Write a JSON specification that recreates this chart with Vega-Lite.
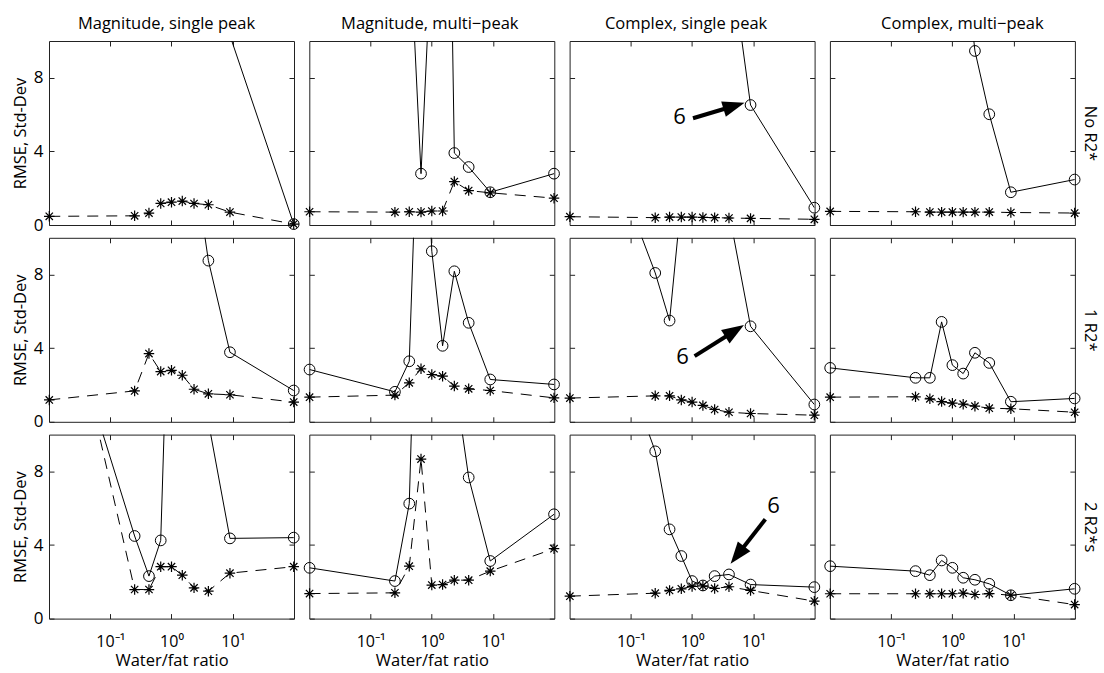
{
"$schema":"https://vega.github.io/schema/vega-lite/v6.json",
"background":"white",
"padding":{"left":11,"top":15,"right":6,"bottom":0},
"datasets":{
"d":[
{"p":"r1c1","x":0.0101,"rmse":40,"sd":0.47},{"p":"r1c1","x":0.25,"rmse":38,"sd":0.5},{"p":"r1c1","x":0.4286,"rmse":35,"sd":0.65},{"p":"r1c1","x":0.6667,"rmse":30,"sd":1.17},{"p":"r1c1","x":1,"rmse":28,"sd":1.24},{"p":"r1c1","x":1.5,"rmse":25,"sd":1.3},{"p":"r1c1","x":2.333,"rmse":20,"sd":1.17},{"p":"r1c1","x":4,"rmse":15,"sd":1.1},{"p":"r1c1","x":9,"rmse":10.3,"sd":0.7},{"p":"r1c1","x":99,"rmse":0.05,"sd":0.05},
{"p":"r1c2","x":0.0101,"rmse":30,"sd":0.72},{"p":"r1c2","x":0.25,"rmse":25,"sd":0.7},{"p":"r1c2","x":0.4286,"rmse":16.1,"sd":0.72},{"p":"r1c2","x":0.6667,"rmse":2.79,"sd":0.7},{"p":"r1c2","x":1,"rmse":15.3,"sd":0.76},{"p":"r1c2","x":1.5,"rmse":44,"sd":0.76},{"p":"r1c2","x":2.333,"rmse":3.91,"sd":2.36},{"p":"r1c2","x":4,"rmse":3.15,"sd":1.87},{"p":"r1c2","x":9,"rmse":1.78,"sd":1.75},{"p":"r1c2","x":99,"rmse":2.79,"sd":1.46},
{"p":"r1c3","x":0.0101,"rmse":40,"sd":0.45},{"p":"r1c3","x":0.25,"rmse":35,"sd":0.4},{"p":"r1c3","x":0.4286,"rmse":30,"sd":0.43},{"p":"r1c3","x":0.6667,"rmse":28,"sd":0.43},{"p":"r1c3","x":1,"rmse":25,"sd":0.43},{"p":"r1c3","x":1.5,"rmse":22,"sd":0.41},{"p":"r1c3","x":2.333,"rmse":18,"sd":0.4},{"p":"r1c3","x":4,"rmse":15.2,"sd":0.38},{"p":"r1c3","x":9,"rmse":6.52,"sd":0.36},{"p":"r1c3","x":99,"rmse":0.94,"sd":0.31},
{"p":"r1c4","x":0.0101,"rmse":40,"sd":0.74},{"p":"r1c4","x":0.25,"rmse":35,"sd":0.72},{"p":"r1c4","x":0.4286,"rmse":30,"sd":0.7},{"p":"r1c4","x":0.6667,"rmse":25,"sd":0.7},{"p":"r1c4","x":1,"rmse":20,"sd":0.7},{"p":"r1c4","x":1.5,"rmse":15.4,"sd":0.7},{"p":"r1c4","x":2.333,"rmse":9.46,"sd":0.7},{"p":"r1c4","x":4,"rmse":6.02,"sd":0.7},{"p":"r1c4","x":9,"rmse":1.78,"sd":0.68},{"p":"r1c4","x":99,"rmse":2.47,"sd":0.65},
{"p":"r2c1","x":0.0101,"rmse":40,"sd":1.19},{"p":"r2c1","x":0.25,"rmse":35,"sd":1.68},{"p":"r2c1","x":0.4286,"rmse":30,"sd":3.71},{"p":"r2c1","x":0.6667,"rmse":25,"sd":2.73},{"p":"r2c1","x":1,"rmse":20,"sd":2.8},{"p":"r2c1","x":1.5,"rmse":17,"sd":2.53},{"p":"r2c1","x":2.333,"rmse":14.1,"sd":1.77},{"p":"r2c1","x":4,"rmse":8.76,"sd":1.52},{"p":"r2c1","x":9,"rmse":3.78,"sd":1.47},{"p":"r2c1","x":99,"rmse":1.7,"sd":1.07},
{"p":"r2c2","x":0.0101,"rmse":2.84,"sd":1.34},{"p":"r2c2","x":0.25,"rmse":1.63,"sd":1.45},{"p":"r2c2","x":0.4286,"rmse":3.29,"sd":2.12},{"p":"r2c2","x":0.6667,"rmse":22,"sd":2.88},{"p":"r2c2","x":1,"rmse":9.27,"sd":2.57},{"p":"r2c2","x":1.5,"rmse":4.13,"sd":2.48},{"p":"r2c2","x":2.333,"rmse":8.18,"sd":1.94},{"p":"r2c2","x":4,"rmse":5.38,"sd":1.79},{"p":"r2c2","x":9,"rmse":2.3,"sd":1.7},{"p":"r2c2","x":99,"rmse":2.03,"sd":1.3},
{"p":"r2c3","x":0.0101,"rmse":20.4,"sd":1.29},{"p":"r2c3","x":0.25,"rmse":8.09,"sd":1.41},{"p":"r2c3","x":0.4286,"rmse":5.5,"sd":1.41},{"p":"r2c3","x":0.6667,"rmse":12.06,"sd":1.19},{"p":"r2c3","x":1,"rmse":15,"sd":1.07},{"p":"r2c3","x":1.5,"rmse":18,"sd":0.89},{"p":"r2c3","x":2.333,"rmse":16,"sd":0.67},{"p":"r2c3","x":4,"rmse":11.4,"sd":0.52},{"p":"r2c3","x":9,"rmse":5.19,"sd":0.45},{"p":"r2c3","x":99,"rmse":0.94,"sd":0.36},
{"p":"r2c4","x":0.0101,"rmse":2.93,"sd":1.34},{"p":"r2c4","x":0.25,"rmse":2.39,"sd":1.36},{"p":"r2c4","x":0.4286,"rmse":2.39,"sd":1.25},{"p":"r2c4","x":0.6667,"rmse":5.43,"sd":1.1},{"p":"r2c4","x":1,"rmse":3.08,"sd":1.01},{"p":"r2c4","x":1.5,"rmse":2.62,"sd":0.96},{"p":"r2c4","x":2.333,"rmse":3.75,"sd":0.85},{"p":"r2c4","x":4,"rmse":3.2,"sd":0.74},{"p":"r2c4","x":9,"rmse":1.09,"sd":0.71},{"p":"r2c4","x":99,"rmse":1.27,"sd":0.52},
{"p":"r3c1","x":0.0101,"rmse":19.4,"sd":21.8},{"p":"r3c1","x":0.25,"rmse":4.49,"sd":1.58},{"p":"r3c1","x":0.4286,"rmse":2.31,"sd":1.58},{"p":"r3c1","x":0.6667,"rmse":4.25,"sd":2.82},{"p":"r3c1","x":1,"rmse":23.2,"sd":2.82},{"p":"r3c1","x":1.5,"rmse":25,"sd":2.36},{"p":"r3c1","x":2.333,"rmse":20,"sd":1.67},{"p":"r3c1","x":4,"rmse":10.7,"sd":1.49},{"p":"r3c1","x":9,"rmse":4.36,"sd":2.47},{"p":"r3c1","x":99,"rmse":4.4,"sd":2.82},
{"p":"r3c2","x":0.0101,"rmse":2.76,"sd":1.36},{"p":"r3c2","x":0.25,"rmse":2.04,"sd":1.4},{"p":"r3c2","x":0.4286,"rmse":6.25,"sd":2.85},{"p":"r3c2","x":0.6667,"rmse":28,"sd":8.67},{"p":"r3c2","x":1,"rmse":25,"sd":1.82},{"p":"r3c2","x":1.5,"rmse":20,"sd":1.85},{"p":"r3c2","x":2.333,"rmse":13.1,"sd":2.09},{"p":"r3c2","x":4,"rmse":7.67,"sd":2.09},{"p":"r3c2","x":9,"rmse":3.13,"sd":2.58},{"p":"r3c2","x":99,"rmse":5.67,"sd":3.8},
{"p":"r3c3","x":0.0101,"rmse":22,"sd":1.22},{"p":"r3c3","x":0.25,"rmse":9.09,"sd":1.38},{"p":"r3c3","x":0.4286,"rmse":4.85,"sd":1.53},{"p":"r3c3","x":0.6667,"rmse":3.4,"sd":1.62},{"p":"r3c3","x":1,"rmse":2.04,"sd":1.75},{"p":"r3c3","x":1.5,"rmse":1.8,"sd":1.78},{"p":"r3c3","x":2.333,"rmse":2.31,"sd":1.64},{"p":"r3c3","x":4,"rmse":2.4,"sd":1.73},{"p":"r3c3","x":9,"rmse":1.85,"sd":1.53},{"p":"r3c3","x":99,"rmse":1.71,"sd":0.95},
{"p":"r3c4","x":0.0101,"rmse":2.85,"sd":1.35},{"p":"r3c4","x":0.25,"rmse":2.58,"sd":1.35},{"p":"r3c4","x":0.4286,"rmse":2.36,"sd":1.35},{"p":"r3c4","x":0.6667,"rmse":3.16,"sd":1.35},{"p":"r3c4","x":1,"rmse":2.76,"sd":1.35},{"p":"r3c4","x":1.5,"rmse":2.22,"sd":1.38},{"p":"r3c4","x":2.333,"rmse":2.11,"sd":1.31},{"p":"r3c4","x":4,"rmse":1.89,"sd":1.36},{"p":"r3c4","x":9,"rmse":1.27,"sd":1.27},{"p":"r3c4","x":99,"rmse":1.62,"sd":0.76}
],
"ann":[
{"p":"r1c3","label":"6","label_x":0.625,"label_y":5.89,"tail_x":1.034,"tail_y":5.8,"shaft_x":4.67,"shaft_y":6.455,"tip_x":7.19,"tip_y":6.645},
{"p":"r2c3","label":"6","label_x":0.697,"label_y":3.52,"tail_x":1.099,"tail_y":3.57,"shaft_x":4.8,"shaft_y":4.91,"tip_x":7.03,"tip_y":5.255},
{"p":"r3c3","label":"6","label_x":21.3,"label_y":6.1,"tail_x":15.7,"tail_y":5.4,"shaft_x":5.61,"shaft_y":3.5,"tip_x":4.25,"tip_y":2.98}
]
},
"data":{"name":"d"},
"columns":4,
"bounds":"flush",
"spacing":{"row":12.8,"column":15.3},
"concat":[
{"title":{"text":"Magnitude, single peak","dx":-5},"transform":[{"filter":"datum.p=='r1c1'"}],"resolve":{"axis":{"x":"independent","y":"independent"}},"layer":[
{"mark":{"type":"line","clip":true,"color":"black","strokeWidth":1},"encoding":{"x":{"field":"x","type":"quantitative","scale":{"type":"log","domain":[0.01,100],"nice":false},"axis":{"orient":"bottom","values":[0.1,1,10],"labels":false,"title":null}},"y":{"field":"rmse","type":"quantitative","scale":{"domain":[0,10],"nice":false},"axis":{"orient":"left","values":[0,4,8],"title":"RMSE, Std-Dev"}}}},
{"mark":{"type":"line","clip":true,"color":"black","strokeWidth":1,"strokeDash":[11,8]},"encoding":{"x":{"field":"x","type":"quantitative","scale":{"type":"log","domain":[0.01,100],"nice":false},"axis":{"orient":"top","values":[0.1,1,10],"labels":false,"title":null}},"y":{"field":"sd","type":"quantitative","scale":{"domain":[0,10],"nice":false},"axis":{"orient":"right","values":[0,4,8],"labels":false,"title":null}}}},
{"transform":[{"filter":"datum.rmse<=10"}],"mark":{"type":"point","shape":"circle","size":115,"filled":false,"color":"black","strokeWidth":1,"opacity":1},"encoding":{"x":{"field":"x","type":"quantitative","scale":{"type":"log","domain":[0.01,100],"nice":false},"axis":null},"y":{"field":"rmse","type":"quantitative","scale":{"domain":[0,10],"nice":false},"axis":null}}},
{"transform":[{"filter":"datum.sd<=10"}],"mark":{"type":"point","shape":"M-1,0L1,0M0,-1L0,1M-0.7,-0.7L0.7,0.7M-0.7,0.7L0.7,-0.7","size":110,"filled":false,"color":"black","strokeWidth":1.2,"opacity":1},"encoding":{"x":{"field":"x","type":"quantitative","scale":{"type":"log","domain":[0.01,100],"nice":false},"axis":null},"y":{"field":"sd","type":"quantitative","scale":{"domain":[0,10],"nice":false},"axis":null}}}
]},
{"title":{"text":"Magnitude, multi\u2212peak","dx":-2},"transform":[{"filter":"datum.p=='r1c2'"}],"resolve":{"axis":{"x":"independent","y":"independent"}},"layer":[
{"mark":{"type":"line","clip":true,"color":"black","strokeWidth":1},"encoding":{"x":{"field":"x","type":"quantitative","scale":{"type":"log","domain":[0.01,100],"nice":false},"axis":{"orient":"bottom","values":[0.1,1,10],"labels":false,"title":null}},"y":{"field":"rmse","type":"quantitative","scale":{"domain":[0,10],"nice":false},"axis":{"orient":"left","values":[0,4,8],"labels":false,"title":null}}}},
{"mark":{"type":"line","clip":true,"color":"black","strokeWidth":1,"strokeDash":[11,8]},"encoding":{"x":{"field":"x","type":"quantitative","scale":{"type":"log","domain":[0.01,100],"nice":false},"axis":{"orient":"top","values":[0.1,1,10],"labels":false,"title":null}},"y":{"field":"sd","type":"quantitative","scale":{"domain":[0,10],"nice":false},"axis":{"orient":"right","values":[0,4,8],"labels":false,"title":null}}}},
{"transform":[{"filter":"datum.rmse<=10"}],"mark":{"type":"point","shape":"circle","size":115,"filled":false,"color":"black","strokeWidth":1,"opacity":1},"encoding":{"x":{"field":"x","type":"quantitative","scale":{"type":"log","domain":[0.01,100],"nice":false},"axis":null},"y":{"field":"rmse","type":"quantitative","scale":{"domain":[0,10],"nice":false},"axis":null}}},
{"transform":[{"filter":"datum.sd<=10"}],"mark":{"type":"point","shape":"M-1,0L1,0M0,-1L0,1M-0.7,-0.7L0.7,0.7M-0.7,0.7L0.7,-0.7","size":110,"filled":false,"color":"black","strokeWidth":1.2,"opacity":1},"encoding":{"x":{"field":"x","type":"quantitative","scale":{"type":"log","domain":[0.01,100],"nice":false},"axis":null},"y":{"field":"sd","type":"quantitative","scale":{"domain":[0,10],"nice":false},"axis":null}}}
]},
{"title":{"text":"Complex, single peak","dx":-6},"transform":[{"filter":"datum.p=='r1c3'"}],"resolve":{"axis":{"x":"independent","y":"independent"}},"layer":[
{"mark":{"type":"line","clip":true,"color":"black","strokeWidth":1},"encoding":{"x":{"field":"x","type":"quantitative","scale":{"type":"log","domain":[0.01,100],"nice":false},"axis":{"orient":"bottom","values":[0.1,1,10],"labels":false,"title":null}},"y":{"field":"rmse","type":"quantitative","scale":{"domain":[0,10],"nice":false},"axis":{"orient":"left","values":[0,4,8],"labels":false,"title":null}}}},
{"mark":{"type":"line","clip":true,"color":"black","strokeWidth":1,"strokeDash":[11,8]},"encoding":{"x":{"field":"x","type":"quantitative","scale":{"type":"log","domain":[0.01,100],"nice":false},"axis":{"orient":"top","values":[0.1,1,10],"labels":false,"title":null}},"y":{"field":"sd","type":"quantitative","scale":{"domain":[0,10],"nice":false},"axis":{"orient":"right","values":[0,4,8],"labels":false,"title":null}}}},
{"transform":[{"filter":"datum.rmse<=10"}],"mark":{"type":"point","shape":"circle","size":115,"filled":false,"color":"black","strokeWidth":1,"opacity":1},"encoding":{"x":{"field":"x","type":"quantitative","scale":{"type":"log","domain":[0.01,100],"nice":false},"axis":null},"y":{"field":"rmse","type":"quantitative","scale":{"domain":[0,10],"nice":false},"axis":null}}},
{"transform":[{"filter":"datum.sd<=10"}],"mark":{"type":"point","shape":"M-1,0L1,0M0,-1L0,1M-0.7,-0.7L0.7,0.7M-0.7,0.7L0.7,-0.7","size":110,"filled":false,"color":"black","strokeWidth":1.2,"opacity":1},"encoding":{"x":{"field":"x","type":"quantitative","scale":{"type":"log","domain":[0.01,100],"nice":false},"axis":null},"y":{"field":"sd","type":"quantitative","scale":{"domain":[0,10],"nice":false},"axis":null}}},
{"data":{"name":"ann"},"transform":[{"filter":"datum.p=='r1c3'"}],"mark":{"type":"text","fontSize":22,"color":"black","align":"center","baseline":"middle"},"encoding":{"x":{"field":"label_x","type":"quantitative","scale":{"type":"log","domain":[0.01,100],"nice":false},"axis":null},"y":{"field":"label_y","type":"quantitative","scale":{"domain":[0,10],"nice":false},"axis":null},"text":{"field":"label"}}},
{"data":{"name":"ann"},"transform":[{"filter":"datum.p=='r1c3'"}],"mark":{"type":"rule","color":"black","strokeWidth":4},"encoding":{"x":{"field":"tail_x","type":"quantitative","scale":{"type":"log","domain":[0.01,100],"nice":false},"axis":null},"y":{"field":"tail_y","type":"quantitative","scale":{"domain":[0,10],"nice":false},"axis":null},"x2":{"field":"shaft_x"},"y2":{"field":"shaft_y"}}},
{"data":{"name":"ann"},"transform":[{"filter":"datum.p=='r1c3'"}],"mark":{"type":"point","shape":"M0,0L-4.4,-1.6L-4.4,1.6Z","size":100,"filled":true,"color":"black","opacity":1,"angle":343.2},"encoding":{"x":{"field":"tip_x","type":"quantitative","scale":{"type":"log","domain":[0.01,100],"nice":false},"axis":null},"y":{"field":"tip_y","type":"quantitative","scale":{"domain":[0,10],"nice":false},"axis":null}}}
]},
{"title":{"text":"Complex, multi\u2212peak","dx":10},"transform":[{"filter":"datum.p=='r1c4'"}],"resolve":{"axis":{"x":"independent","y":"independent"}},"layer":[
{"mark":{"type":"line","clip":true,"color":"black","strokeWidth":1},"encoding":{"x":{"field":"x","type":"quantitative","scale":{"type":"log","domain":[0.01,100],"nice":false},"axis":{"orient":"bottom","values":[0.1,1,10],"labels":false,"title":null}},"y":{"field":"rmse","type":"quantitative","scale":{"domain":[0,10],"nice":false},"axis":{"orient":"left","values":[0,4,8],"labels":false,"title":null}}}},
{"mark":{"type":"line","clip":true,"color":"black","strokeWidth":1,"strokeDash":[11,8]},"encoding":{"x":{"field":"x","type":"quantitative","scale":{"type":"log","domain":[0.01,100],"nice":false},"axis":{"orient":"top","values":[0.1,1,10],"labels":false,"title":null}},"y":{"field":"sd","type":"quantitative","scale":{"domain":[0,10],"nice":false},"axis":{"orient":"right","values":[0,4,8],"labels":false,"title":"No R2*"}}}},
{"transform":[{"filter":"datum.rmse<=10"}],"mark":{"type":"point","shape":"circle","size":115,"filled":false,"color":"black","strokeWidth":1,"opacity":1},"encoding":{"x":{"field":"x","type":"quantitative","scale":{"type":"log","domain":[0.01,100],"nice":false},"axis":null},"y":{"field":"rmse","type":"quantitative","scale":{"domain":[0,10],"nice":false},"axis":null}}},
{"transform":[{"filter":"datum.sd<=10"}],"mark":{"type":"point","shape":"M-1,0L1,0M0,-1L0,1M-0.7,-0.7L0.7,0.7M-0.7,0.7L0.7,-0.7","size":110,"filled":false,"color":"black","strokeWidth":1.2,"opacity":1},"encoding":{"x":{"field":"x","type":"quantitative","scale":{"type":"log","domain":[0.01,100],"nice":false},"axis":null},"y":{"field":"sd","type":"quantitative","scale":{"domain":[0,10],"nice":false},"axis":null}}}
]},
{"transform":[{"filter":"datum.p=='r2c1'"}],"resolve":{"axis":{"x":"independent","y":"independent"}},"layer":[
{"mark":{"type":"line","clip":true,"color":"black","strokeWidth":1},"encoding":{"x":{"field":"x","type":"quantitative","scale":{"type":"log","domain":[0.01,100],"nice":false},"axis":{"orient":"bottom","values":[0.1,1,10],"labels":false,"title":null}},"y":{"field":"rmse","type":"quantitative","scale":{"domain":[0,10],"nice":false},"axis":{"orient":"left","values":[0,4,8],"title":"RMSE, Std-Dev"}}}},
{"mark":{"type":"line","clip":true,"color":"black","strokeWidth":1,"strokeDash":[11,8]},"encoding":{"x":{"field":"x","type":"quantitative","scale":{"type":"log","domain":[0.01,100],"nice":false},"axis":{"orient":"top","values":[0.1,1,10],"labels":false,"title":null}},"y":{"field":"sd","type":"quantitative","scale":{"domain":[0,10],"nice":false},"axis":{"orient":"right","values":[0,4,8],"labels":false,"title":null}}}},
{"transform":[{"filter":"datum.rmse<=10"}],"mark":{"type":"point","shape":"circle","size":115,"filled":false,"color":"black","strokeWidth":1,"opacity":1},"encoding":{"x":{"field":"x","type":"quantitative","scale":{"type":"log","domain":[0.01,100],"nice":false},"axis":null},"y":{"field":"rmse","type":"quantitative","scale":{"domain":[0,10],"nice":false},"axis":null}}},
{"transform":[{"filter":"datum.sd<=10"}],"mark":{"type":"point","shape":"M-1,0L1,0M0,-1L0,1M-0.7,-0.7L0.7,0.7M-0.7,0.7L0.7,-0.7","size":110,"filled":false,"color":"black","strokeWidth":1.2,"opacity":1},"encoding":{"x":{"field":"x","type":"quantitative","scale":{"type":"log","domain":[0.01,100],"nice":false},"axis":null},"y":{"field":"sd","type":"quantitative","scale":{"domain":[0,10],"nice":false},"axis":null}}}
]},
{"transform":[{"filter":"datum.p=='r2c2'"}],"resolve":{"axis":{"x":"independent","y":"independent"}},"layer":[
{"mark":{"type":"line","clip":true,"color":"black","strokeWidth":1},"encoding":{"x":{"field":"x","type":"quantitative","scale":{"type":"log","domain":[0.01,100],"nice":false},"axis":{"orient":"bottom","values":[0.1,1,10],"labels":false,"title":null}},"y":{"field":"rmse","type":"quantitative","scale":{"domain":[0,10],"nice":false},"axis":{"orient":"left","values":[0,4,8],"labels":false,"title":null}}}},
{"mark":{"type":"line","clip":true,"color":"black","strokeWidth":1,"strokeDash":[11,8]},"encoding":{"x":{"field":"x","type":"quantitative","scale":{"type":"log","domain":[0.01,100],"nice":false},"axis":{"orient":"top","values":[0.1,1,10],"labels":false,"title":null}},"y":{"field":"sd","type":"quantitative","scale":{"domain":[0,10],"nice":false},"axis":{"orient":"right","values":[0,4,8],"labels":false,"title":null}}}},
{"transform":[{"filter":"datum.rmse<=10"}],"mark":{"type":"point","shape":"circle","size":115,"filled":false,"color":"black","strokeWidth":1,"opacity":1},"encoding":{"x":{"field":"x","type":"quantitative","scale":{"type":"log","domain":[0.01,100],"nice":false},"axis":null},"y":{"field":"rmse","type":"quantitative","scale":{"domain":[0,10],"nice":false},"axis":null}}},
{"transform":[{"filter":"datum.sd<=10"}],"mark":{"type":"point","shape":"M-1,0L1,0M0,-1L0,1M-0.7,-0.7L0.7,0.7M-0.7,0.7L0.7,-0.7","size":110,"filled":false,"color":"black","strokeWidth":1.2,"opacity":1},"encoding":{"x":{"field":"x","type":"quantitative","scale":{"type":"log","domain":[0.01,100],"nice":false},"axis":null},"y":{"field":"sd","type":"quantitative","scale":{"domain":[0,10],"nice":false},"axis":null}}}
]},
{"transform":[{"filter":"datum.p=='r2c3'"}],"resolve":{"axis":{"x":"independent","y":"independent"}},"layer":[
{"mark":{"type":"line","clip":true,"color":"black","strokeWidth":1},"encoding":{"x":{"field":"x","type":"quantitative","scale":{"type":"log","domain":[0.01,100],"nice":false},"axis":{"orient":"bottom","values":[0.1,1,10],"labels":false,"title":null}},"y":{"field":"rmse","type":"quantitative","scale":{"domain":[0,10],"nice":false},"axis":{"orient":"left","values":[0,4,8],"labels":false,"title":null}}}},
{"mark":{"type":"line","clip":true,"color":"black","strokeWidth":1,"strokeDash":[11,8]},"encoding":{"x":{"field":"x","type":"quantitative","scale":{"type":"log","domain":[0.01,100],"nice":false},"axis":{"orient":"top","values":[0.1,1,10],"labels":false,"title":null}},"y":{"field":"sd","type":"quantitative","scale":{"domain":[0,10],"nice":false},"axis":{"orient":"right","values":[0,4,8],"labels":false,"title":null}}}},
{"transform":[{"filter":"datum.rmse<=10"}],"mark":{"type":"point","shape":"circle","size":115,"filled":false,"color":"black","strokeWidth":1,"opacity":1},"encoding":{"x":{"field":"x","type":"quantitative","scale":{"type":"log","domain":[0.01,100],"nice":false},"axis":null},"y":{"field":"rmse","type":"quantitative","scale":{"domain":[0,10],"nice":false},"axis":null}}},
{"transform":[{"filter":"datum.sd<=10"}],"mark":{"type":"point","shape":"M-1,0L1,0M0,-1L0,1M-0.7,-0.7L0.7,0.7M-0.7,0.7L0.7,-0.7","size":110,"filled":false,"color":"black","strokeWidth":1.2,"opacity":1},"encoding":{"x":{"field":"x","type":"quantitative","scale":{"type":"log","domain":[0.01,100],"nice":false},"axis":null},"y":{"field":"sd","type":"quantitative","scale":{"domain":[0,10],"nice":false},"axis":null}}},
{"data":{"name":"ann"},"transform":[{"filter":"datum.p=='r2c3'"}],"mark":{"type":"text","fontSize":22,"color":"black","align":"center","baseline":"middle"},"encoding":{"x":{"field":"label_x","type":"quantitative","scale":{"type":"log","domain":[0.01,100],"nice":false},"axis":null},"y":{"field":"label_y","type":"quantitative","scale":{"domain":[0,10],"nice":false},"axis":null},"text":{"field":"label"}}},
{"data":{"name":"ann"},"transform":[{"filter":"datum.p=='r2c3'"}],"mark":{"type":"rule","color":"black","strokeWidth":4},"encoding":{"x":{"field":"tail_x","type":"quantitative","scale":{"type":"log","domain":[0.01,100],"nice":false},"axis":null},"y":{"field":"tail_y","type":"quantitative","scale":{"domain":[0,10],"nice":false},"axis":null},"x2":{"field":"shaft_x"},"y2":{"field":"shaft_y"}}},
{"data":{"name":"ann"},"transform":[{"filter":"datum.p=='r2c3'"}],"mark":{"type":"point","shape":"M0,0L-4.4,-1.6L-4.4,1.6Z","size":100,"filled":true,"color":"black","opacity":1,"angle":327.9},"encoding":{"x":{"field":"tip_x","type":"quantitative","scale":{"type":"log","domain":[0.01,100],"nice":false},"axis":null},"y":{"field":"tip_y","type":"quantitative","scale":{"domain":[0,10],"nice":false},"axis":null}}}
]},
{"transform":[{"filter":"datum.p=='r2c4'"}],"resolve":{"axis":{"x":"independent","y":"independent"}},"layer":[
{"mark":{"type":"line","clip":true,"color":"black","strokeWidth":1},"encoding":{"x":{"field":"x","type":"quantitative","scale":{"type":"log","domain":[0.01,100],"nice":false},"axis":{"orient":"bottom","values":[0.1,1,10],"labels":false,"title":null}},"y":{"field":"rmse","type":"quantitative","scale":{"domain":[0,10],"nice":false},"axis":{"orient":"left","values":[0,4,8],"labels":false,"title":null}}}},
{"mark":{"type":"line","clip":true,"color":"black","strokeWidth":1,"strokeDash":[11,8]},"encoding":{"x":{"field":"x","type":"quantitative","scale":{"type":"log","domain":[0.01,100],"nice":false},"axis":{"orient":"top","values":[0.1,1,10],"labels":false,"title":null}},"y":{"field":"sd","type":"quantitative","scale":{"domain":[0,10],"nice":false},"axis":{"orient":"right","values":[0,4,8],"labels":false,"title":"1 R2*"}}}},
{"transform":[{"filter":"datum.rmse<=10"}],"mark":{"type":"point","shape":"circle","size":115,"filled":false,"color":"black","strokeWidth":1,"opacity":1},"encoding":{"x":{"field":"x","type":"quantitative","scale":{"type":"log","domain":[0.01,100],"nice":false},"axis":null},"y":{"field":"rmse","type":"quantitative","scale":{"domain":[0,10],"nice":false},"axis":null}}},
{"transform":[{"filter":"datum.sd<=10"}],"mark":{"type":"point","shape":"M-1,0L1,0M0,-1L0,1M-0.7,-0.7L0.7,0.7M-0.7,0.7L0.7,-0.7","size":110,"filled":false,"color":"black","strokeWidth":1.2,"opacity":1},"encoding":{"x":{"field":"x","type":"quantitative","scale":{"type":"log","domain":[0.01,100],"nice":false},"axis":null},"y":{"field":"sd","type":"quantitative","scale":{"domain":[0,10],"nice":false},"axis":null}}}
]},
{"transform":[{"filter":"datum.p=='r3c1'"}],"resolve":{"axis":{"x":"independent","y":"independent"}},"layer":[
{"mark":{"type":"line","clip":true,"color":"black","strokeWidth":1},"encoding":{"x":{"field":"x","type":"quantitative","scale":{"type":"log","domain":[0.01,100],"nice":false},"axis":{"orient":"bottom","values":[0.1,1,10],"labelExpr":"datum.value<0.5?'10\u207b\u00b9':datum.value<5?'10\u2070':'10\u00b9'","labelDx":-8,"title":"Water/fat ratio"}},"y":{"field":"rmse","type":"quantitative","scale":{"domain":[0,10],"nice":false},"axis":{"orient":"left","values":[0,4,8],"title":"RMSE, Std-Dev"}}}},
{"mark":{"type":"line","clip":true,"color":"black","strokeWidth":1,"strokeDash":[11,8]},"encoding":{"x":{"field":"x","type":"quantitative","scale":{"type":"log","domain":[0.01,100],"nice":false},"axis":{"orient":"top","values":[0.1,1,10],"labels":false,"title":null}},"y":{"field":"sd","type":"quantitative","scale":{"domain":[0,10],"nice":false},"axis":{"orient":"right","values":[0,4,8],"labels":false,"title":null}}}},
{"transform":[{"filter":"datum.rmse<=10"}],"mark":{"type":"point","shape":"circle","size":115,"filled":false,"color":"black","strokeWidth":1,"opacity":1},"encoding":{"x":{"field":"x","type":"quantitative","scale":{"type":"log","domain":[0.01,100],"nice":false},"axis":null},"y":{"field":"rmse","type":"quantitative","scale":{"domain":[0,10],"nice":false},"axis":null}}},
{"transform":[{"filter":"datum.sd<=10"}],"mark":{"type":"point","shape":"M-1,0L1,0M0,-1L0,1M-0.7,-0.7L0.7,0.7M-0.7,0.7L0.7,-0.7","size":110,"filled":false,"color":"black","strokeWidth":1.2,"opacity":1},"encoding":{"x":{"field":"x","type":"quantitative","scale":{"type":"log","domain":[0.01,100],"nice":false},"axis":null},"y":{"field":"sd","type":"quantitative","scale":{"domain":[0,10],"nice":false},"axis":null}}}
]},
{"transform":[{"filter":"datum.p=='r3c2'"}],"resolve":{"axis":{"x":"independent","y":"independent"}},"layer":[
{"mark":{"type":"line","clip":true,"color":"black","strokeWidth":1},"encoding":{"x":{"field":"x","type":"quantitative","scale":{"type":"log","domain":[0.01,100],"nice":false},"axis":{"orient":"bottom","values":[0.1,1,10],"labelExpr":"datum.value<0.5?'10\u207b\u00b9':datum.value<5?'10\u2070':'10\u00b9'","labelDx":-3,"title":"Water/fat ratio"}},"y":{"field":"rmse","type":"quantitative","scale":{"domain":[0,10],"nice":false},"axis":{"orient":"left","values":[0,4,8],"labels":false,"title":null}}}},
{"mark":{"type":"line","clip":true,"color":"black","strokeWidth":1,"strokeDash":[11,8]},"encoding":{"x":{"field":"x","type":"quantitative","scale":{"type":"log","domain":[0.01,100],"nice":false},"axis":{"orient":"top","values":[0.1,1,10],"labels":false,"title":null}},"y":{"field":"sd","type":"quantitative","scale":{"domain":[0,10],"nice":false},"axis":{"orient":"right","values":[0,4,8],"labels":false,"title":null}}}},
{"transform":[{"filter":"datum.rmse<=10"}],"mark":{"type":"point","shape":"circle","size":115,"filled":false,"color":"black","strokeWidth":1,"opacity":1},"encoding":{"x":{"field":"x","type":"quantitative","scale":{"type":"log","domain":[0.01,100],"nice":false},"axis":null},"y":{"field":"rmse","type":"quantitative","scale":{"domain":[0,10],"nice":false},"axis":null}}},
{"transform":[{"filter":"datum.sd<=10"}],"mark":{"type":"point","shape":"M-1,0L1,0M0,-1L0,1M-0.7,-0.7L0.7,0.7M-0.7,0.7L0.7,-0.7","size":110,"filled":false,"color":"black","strokeWidth":1.2,"opacity":1},"encoding":{"x":{"field":"x","type":"quantitative","scale":{"type":"log","domain":[0.01,100],"nice":false},"axis":null},"y":{"field":"sd","type":"quantitative","scale":{"domain":[0,10],"nice":false},"axis":null}}}
]},
{"transform":[{"filter":"datum.p=='r3c3'"}],"resolve":{"axis":{"x":"independent","y":"independent"}},"layer":[
{"mark":{"type":"line","clip":true,"color":"black","strokeWidth":1},"encoding":{"x":{"field":"x","type":"quantitative","scale":{"type":"log","domain":[0.01,100],"nice":false},"axis":{"orient":"bottom","values":[0.1,1,10],"labelExpr":"datum.value<0.5?'10\u207b\u00b9':datum.value<5?'10\u2070':'10\u00b9'","labelDx":-3,"title":"Water/fat ratio"}},"y":{"field":"rmse","type":"quantitative","scale":{"domain":[0,10],"nice":false},"axis":{"orient":"left","values":[0,4,8],"labels":false,"title":null}}}},
{"mark":{"type":"line","clip":true,"color":"black","strokeWidth":1,"strokeDash":[11,8]},"encoding":{"x":{"field":"x","type":"quantitative","scale":{"type":"log","domain":[0.01,100],"nice":false},"axis":{"orient":"top","values":[0.1,1,10],"labels":false,"title":null}},"y":{"field":"sd","type":"quantitative","scale":{"domain":[0,10],"nice":false},"axis":{"orient":"right","values":[0,4,8],"labels":false,"title":null}}}},
{"transform":[{"filter":"datum.rmse<=10"}],"mark":{"type":"point","shape":"circle","size":115,"filled":false,"color":"black","strokeWidth":1,"opacity":1},"encoding":{"x":{"field":"x","type":"quantitative","scale":{"type":"log","domain":[0.01,100],"nice":false},"axis":null},"y":{"field":"rmse","type":"quantitative","scale":{"domain":[0,10],"nice":false},"axis":null}}},
{"transform":[{"filter":"datum.sd<=10"}],"mark":{"type":"point","shape":"M-1,0L1,0M0,-1L0,1M-0.7,-0.7L0.7,0.7M-0.7,0.7L0.7,-0.7","size":110,"filled":false,"color":"black","strokeWidth":1.2,"opacity":1},"encoding":{"x":{"field":"x","type":"quantitative","scale":{"type":"log","domain":[0.01,100],"nice":false},"axis":null},"y":{"field":"sd","type":"quantitative","scale":{"domain":[0,10],"nice":false},"axis":null}}},
{"data":{"name":"ann"},"transform":[{"filter":"datum.p=='r3c3'"}],"mark":{"type":"text","fontSize":22,"color":"black","align":"center","baseline":"middle"},"encoding":{"x":{"field":"label_x","type":"quantitative","scale":{"type":"log","domain":[0.01,100],"nice":false},"axis":null},"y":{"field":"label_y","type":"quantitative","scale":{"domain":[0,10],"nice":false},"axis":null},"text":{"field":"label"}}},
{"data":{"name":"ann"},"transform":[{"filter":"datum.p=='r3c3'"}],"mark":{"type":"rule","color":"black","strokeWidth":4},"encoding":{"x":{"field":"tail_x","type":"quantitative","scale":{"type":"log","domain":[0.01,100],"nice":false},"axis":null},"y":{"field":"tail_y","type":"quantitative","scale":{"domain":[0,10],"nice":false},"axis":null},"x2":{"field":"shaft_x"},"y2":{"field":"shaft_y"}}},
{"data":{"name":"ann"},"transform":[{"filter":"datum.p=='r3c3'"}],"mark":{"type":"point","shape":"M0,0L-4.4,-1.6L-4.4,1.6Z","size":100,"filled":true,"color":"black","opacity":1,"angle":128},"encoding":{"x":{"field":"tip_x","type":"quantitative","scale":{"type":"log","domain":[0.01,100],"nice":false},"axis":null},"y":{"field":"tip_y","type":"quantitative","scale":{"domain":[0,10],"nice":false},"axis":null}}}
]},
{"transform":[{"filter":"datum.p=='r3c4'"}],"resolve":{"axis":{"x":"independent","y":"independent"}},"layer":[
{"mark":{"type":"line","clip":true,"color":"black","strokeWidth":1},"encoding":{"x":{"field":"x","type":"quantitative","scale":{"type":"log","domain":[0.01,100],"nice":false},"axis":{"orient":"bottom","values":[0.1,1,10],"labelExpr":"datum.value<0.5?'10\u207b\u00b9':datum.value<5?'10\u2070':'10\u00b9'","labelDx":0,"title":"Water/fat ratio"}},"y":{"field":"rmse","type":"quantitative","scale":{"domain":[0,10],"nice":false},"axis":{"orient":"left","values":[0,4,8],"labels":false,"title":null}}}},
{"mark":{"type":"line","clip":true,"color":"black","strokeWidth":1,"strokeDash":[11,8]},"encoding":{"x":{"field":"x","type":"quantitative","scale":{"type":"log","domain":[0.01,100],"nice":false},"axis":{"orient":"top","values":[0.1,1,10],"labels":false,"title":null}},"y":{"field":"sd","type":"quantitative","scale":{"domain":[0,10],"nice":false},"axis":{"orient":"right","values":[0,4,8],"labels":false,"title":"2 R2*s"}}}},
{"transform":[{"filter":"datum.rmse<=10"}],"mark":{"type":"point","shape":"circle","size":115,"filled":false,"color":"black","strokeWidth":1,"opacity":1},"encoding":{"x":{"field":"x","type":"quantitative","scale":{"type":"log","domain":[0.01,100],"nice":false},"axis":null},"y":{"field":"rmse","type":"quantitative","scale":{"domain":[0,10],"nice":false},"axis":null}}},
{"transform":[{"filter":"datum.sd<=10"}],"mark":{"type":"point","shape":"M-1,0L1,0M0,-1L0,1M-0.7,-0.7L0.7,0.7M-0.7,0.7L0.7,-0.7","size":110,"filled":false,"color":"black","strokeWidth":1.2,"opacity":1},"encoding":{"x":{"field":"x","type":"quantitative","scale":{"type":"log","domain":[0.01,100],"nice":false},"axis":null},"y":{"field":"sd","type":"quantitative","scale":{"domain":[0,10],"nice":false},"axis":null}}}
]}
],
"config":{
"font":"Open Sans",
"view":{"stroke":"#222","strokeWidth":1,"continuousWidth":245,"continuousHeight":184},
"axis":{"domain":false,"grid":false,"ticks":true,"tickSize":-5,"tickColor":"#222","tickWidth":1,"labelFont":"Open Sans","labelFontSize":17,"labelColor":"black","labelPadding":11,"titleFont":"Open Sans","titleFontSize":16.5,"titleFontWeight":"normal","titleColor":"black","titlePadding":5},
"axisBottom":{"labelPadding":20,"labelFontSize":16,"titlePadding":3},
"axisRight":{"titlePadding":6},
"title":{"font":"Open Sans","fontSize":16.5,"fontWeight":"normal","color":"black","offset":8,"baseline":"alphabetic"}
}
}
